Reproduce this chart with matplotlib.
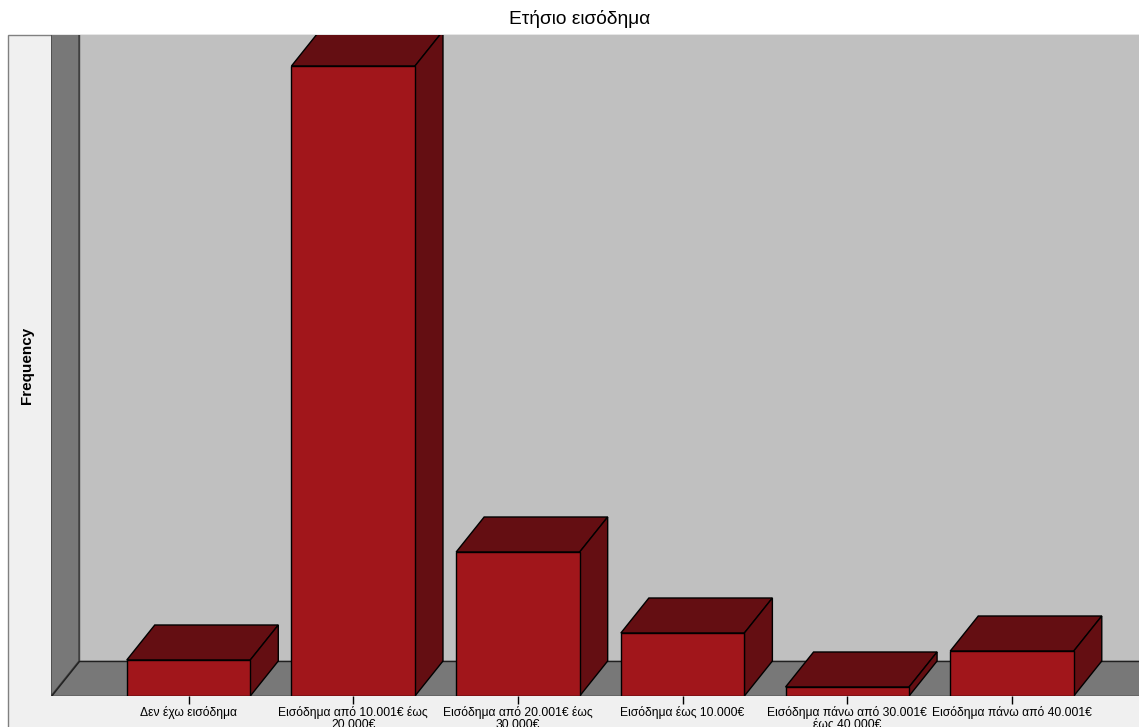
import numpy as np
import matplotlib.pyplot as plt
from matplotlib.patches import Polygon, Rectangle

plt.rcParams['font.family'] = ['Liberation Sans', 'DejaVu Sans']

categories = [
    'Δεν έχω εισόδημα',
    'Εισόδημα από 10.001€ έως\n20.000€',
    'Εισόδημα από 20.001€ έως\n30.000€',
    'Εισόδημα έως 10.000€',
    'Εισόδημα πάνω από 30.001€\nέως 40.000€',
    'Εισόδημα πάνω από 40.001€',
]
freqs = [4, 70, 16, 7, 1, 5]

FRONT = '#a1161b'
DARK = '#640e12'
WALL = '#787878'
BACK = '#c0c0c0'
PANEL = '#f0f0f0'

W, H = 1139, 727
fig = plt.figure(figsize=(W / 100, H / 100), dpi=100)

# light outer panel behind the plot
fig.patches.append(Rectangle((8 / W, -0.01), 1.0, (H - 35) / H + 0.01,
                             transform=fig.transFigure, facecolor=PANEL,
                             edgecolor='#808080', lw=1, zorder=-5))

ax = fig.add_axes([51 / W, 31 / H, (W - 51) / W, 661 / H])
ax.set_facecolor('none')
x0, x1 = -0.835, 5.771
ytop = 661 / 9
ax.set_xlim(x0, x1)
ax.set_ylim(0, ytop)

# depth of the 3D effect in data units
dx, dy = 0.17, 35 / 9
width = 0.75

# walls and floor
ax.add_patch(Polygon([(x0, 0), (x0 + dx, dy), (x0 + dx, ytop + 5), (x0, ytop + 5)],
                     facecolor=WALL, edgecolor='#404040', lw=1))
ax.add_patch(Polygon([(x0 + dx, dy), (x1 + 2, dy), (x1 + 2, ytop + 5), (x0 + dx, ytop + 5)],
                     facecolor=BACK, edgecolor='#404040', lw=1))
ax.add_patch(Polygon([(x0, 0), (x1 + 2, 0), (x1 + 2, dy), (x0 + dx, dy)],
                     facecolor=WALL, edgecolor='#202020', lw=1))

xs = np.arange(len(freqs))
for x, f in zip(xs, freqs):
    l, r = x - width / 2, x + width / 2
    ax.add_patch(Polygon([(l, f), (r, f), (r + dx, f + dy), (l + dx, f + dy)],
                         facecolor=DARK, edgecolor='black', lw=1))
    ax.add_patch(Polygon([(r, 0), (r + dx, dy), (r + dx, f + dy), (r, f)],
                         facecolor=DARK, edgecolor='black', lw=1))
    ax.add_patch(Rectangle((l, 0), width, f, facecolor=FRONT, edgecolor='black', lw=1))

for s in ax.spines.values():
    s.set_visible(False)
ax.set_yticks([])
ax.set_xticks(xs, categories, fontsize=8.7, linespacing=0.95)
ax.tick_params(axis='x', length=5.5, width=1, color='black', pad=2)
ax.set_ylabel('Frequency', fontsize=11, fontweight='bold')
ax.yaxis.set_label_coords(-17 / 1088, 0.5)

fig.text(580 / W, 1 - 19 / H, 'Ετήσιο εισόδημα', fontsize=13.8, ha='center', va='center')

fig.savefig('out.png', dpi=100)
